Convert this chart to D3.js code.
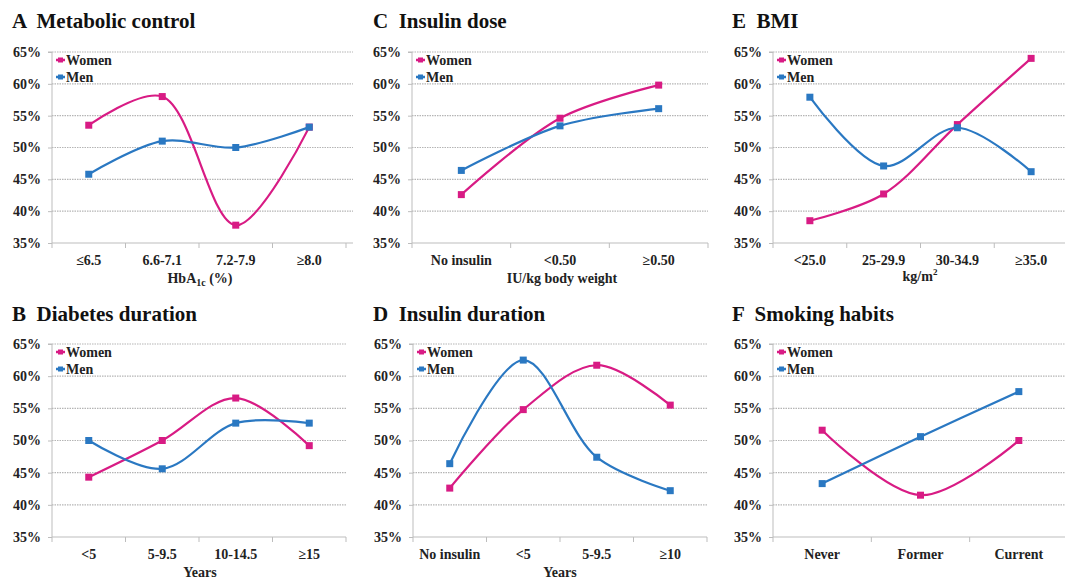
<!DOCTYPE html>
<html>
<head>
<meta charset="utf-8">
<script src="https://cdn.jsdelivr.net/npm/d3@7/dist/d3.min.js"></script>
<style>
  body { margin: 0; background: #fff; }
  svg text { font-family: "Liberation Serif", "Times New Roman", serif; font-weight: bold; fill: #222; }
  .ptitle { white-space: pre; }
</style>
</head>
<body>
<div id="chart"></div>
<script>
// Data (percent)
const seriesNames = ["Women", "Men"];
const yTicks = [35, 40, 45, 50, 55, 60, 65];

const metabolicCats = ["≤6.5", "6.6-7.1", "7.2-7.9", "≥8.0"];
const metabolicWomen = [53.5, 58.0, 37.8, 53.2];
const metabolicMen = [45.8, 51.0, 50.0, 53.2];

const doseCats = ["No insulin", "<0.50", "≥0.50"];
const doseWomen = [42.6, 54.6, 59.8];
const doseMen = [46.4, 53.4, 56.1];

const bmiCats = ["<25.0", "25-29.9", "30-34.9", "≥35.0"];
const bmiWomen = [38.5, 42.7, 53.6, 64.0];
const bmiMen = [57.9, 47.1, 53.1, 46.2];

const diabDurCats = ["<5", "5-9.5", "10-14.5", "≥15"];
const diabDurWomen = [44.3, 50.0, 56.6, 49.2];
const diabDurMen = [50.0, 45.6, 52.7, 52.7];

const insDurCats = ["No insulin", "<5", "5-9.5", "≥10"];
const insDurWomen = [42.6, 54.8, 61.7, 55.5];
const insDurMen = [46.4, 62.5, 47.4, 42.2];

const smokeCats = ["Never", "Former", "Current"];
const smokeWomen = [51.6, 41.5, 50.0];
const smokeMen = [43.3, 50.6, 57.6];

const colors = { Women: "#d81b84", Men: "#2a78c2" };

// Panel layout
const panels = [
  { title: "A  Metabolic control", cats: metabolicCats, women: metabolicWomen, men: metabolicMen,
    tx: 12, ty: 28, x0: 52, x1: 346, gridRight: 353, top: 52, bottom: 243, xTitle: "hba1c", xTitleX: 200 },
  { title: "C  Insulin dose", cats: doseCats, women: doseWomen, men: doseMen,
    tx: 373, ty: 28, x0: 412, x1: 708, gridRight: 708, top: 52, bottom: 243, xTitle: "IU/kg body weight", xTitleX: 562 },
  { title: "E  BMI", cats: bmiCats, women: bmiWomen, men: bmiMen,
    tx: 732, ty: 28, x0: 773, x1: 1068, gridRight: 1065, top: 52, bottom: 243, xTitle: "kgm2", xTitleX: 920 },
  { title: "B  Diabetes duration", cats: diabDurCats, women: diabDurWomen, men: diabDurMen,
    tx: 12, ty: 321, x0: 52, x1: 346, gridRight: 346, top: 344, bottom: 537, xTitle: "Years", xTitleX: 200 },
  { title: "D  Insulin duration", cats: insDurCats, women: insDurWomen, men: insDurMen,
    tx: 373, ty: 321, x0: 413, x1: 707, gridRight: 707, top: 344, bottom: 537, xTitle: "Years", xTitleX: 560 },
  { title: "F  Smoking habits", cats: smokeCats, women: smokeWomen, men: smokeMen,
    tx: 732, ty: 321, x0: 773, x1: 1068, gridRight: 1065, top: 344, bottom: 537, xTitle: null, xTitleX: 920 }
];

const svg = d3.select("#chart").append("svg")
  .attr("width", 1065)
  .attr("height", 581);

panels.forEach(p => {
  const g = svg.append("g");
  const x = d3.scaleBand().domain(p.cats).range([p.x0, p.x1]);
  const y = d3.scaleLinear().domain([35, 65]).range([p.bottom, p.top]);

  // title
  g.append("text")
    .attr("class", "ptitle")
    .attr("x", p.tx).attr("y", p.ty)
    .attr("font-size", "21px")
    .style("fill", "#111")
    .text(p.title);

  // gridlines
  g.selectAll(".grid").data(yTicks.slice(1)).join("line")
    .attr("x1", p.x0).attr("x2", p.gridRight)
    .attr("y1", d => y(d)).attr("y2", d => y(d))
    .attr("stroke", "#b5b5b5")
    .attr("stroke-width", 1.2)
    .attr("stroke-dasharray", "1.5,1");

  // y axis
  const yAxis = d3.axisLeft(y).tickValues(yTicks).tickSize(4).tickPadding(7).tickFormat(d => d + "%");
  const ya = g.append("g").attr("transform", `translate(${p.x0},0)`).call(yAxis);
  ya.select(".domain").attr("stroke", "#bdbdbd").attr("d", `M-4,${p.top}H0V${p.bottom}`);
  ya.selectAll(".tick line").attr("stroke", "#bdbdbd");
  ya.selectAll(".tick text").attr("font-size", "14px").attr("font-family", null);

  // x axis
  const xAxis = d3.axisBottom(x).tickSize(0).tickPadding(12);
  const xa = g.append("g").attr("transform", `translate(0,${p.bottom})`).call(xAxis);
  xa.select(".domain").attr("stroke", "#bdbdbd").attr("d", `M${p.x0},0H${p.gridRight}`);
  xa.selectAll(".tick text").attr("font-size", "14px").attr("font-family", null);
  // category separator ticks
  const bounds = p.cats.map(c => x(c)).concat([p.x1]).filter(v => v <= p.gridRight);
  xa.selectAll(".sep").data(bounds).join("line")
    .attr("x1", d => d).attr("x2", d => d)
    .attr("y1", 0).attr("y2", 5)
    .attr("stroke", "#bdbdbd");

  // axis title
  if (p.xTitle) {
    const t = g.append("text")
      .attr("x", p.xTitleX).attr("y", p.bottom + 40)
      .attr("text-anchor", "middle")
      .attr("font-size", "14px");
    if (p.xTitle === "hba1c") {
      t.append("tspan").text("HbA");
      t.append("tspan").attr("font-size", "10px").attr("dy", 3).text("1c");
      t.append("tspan").attr("dy", -3).text(" (%)");
    } else if (p.xTitle === "kgm2") {
      t.attr("y", p.bottom + 38);
      t.append("tspan").text("kg/m");
      t.append("tspan").attr("font-size", "9px").attr("dy", -6).text("2");
    } else {
      t.text(p.xTitle);
    }
  }

  // lines
  const line = d3.line()
    .x((d, i) => x(p.cats[i]) + x.bandwidth() / 2)
    .y(d => y(d))
    .curve(d3.curveCatmullRom.alpha(0.5));

  [["Women", p.women], ["Men", p.men]].forEach(([name, vals]) => {
    g.append("path")
      .attr("d", line(vals))
      .attr("fill", "none")
      .attr("stroke", colors[name])
      .attr("stroke-width", 2.2);
    g.selectAll(".m-" + name).data(vals).join("rect")
      .attr("x", (d, i) => x(p.cats[i]) + x.bandwidth() / 2 - 3.5)
      .attr("y", d => y(d) - 3.5)
      .attr("width", 7).attr("height", 7)
      .attr("fill", colors[name]);
  });

  // legend
  seriesNames.forEach((name, i) => {
    const ly = p.top + 8 + i * 17;
    g.append("line")
      .attr("x1", p.x0 + 4).attr("x2", p.x0 + 13)
      .attr("y1", ly).attr("y2", ly)
      .attr("stroke", colors[name]).attr("stroke-width", 2.5);
    g.append("rect")
      .attr("x", p.x0 + 6).attr("y", ly - 2.5)
      .attr("width", 5).attr("height", 5)
      .attr("fill", colors[name]);
    g.append("text")
      .attr("x", p.x0 + 14).attr("y", ly + 5)
      .attr("font-size", "14px")
      .text(name);
  });
});
</script>
</body>
</html>
